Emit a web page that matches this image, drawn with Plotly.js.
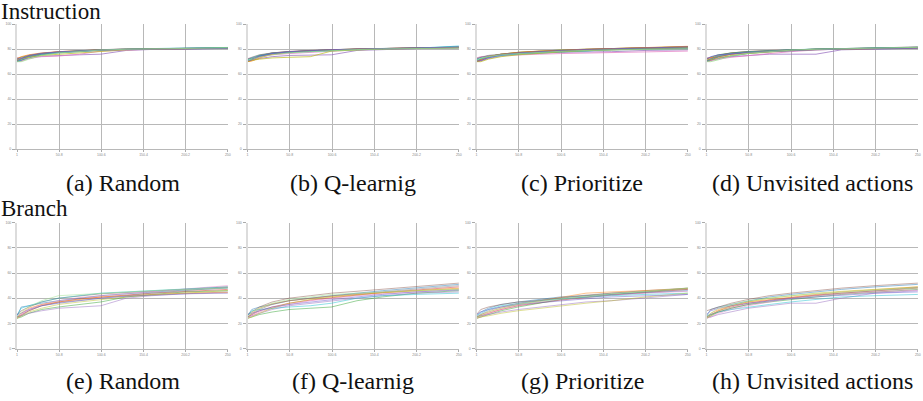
<!DOCTYPE html>
<html>
<head>
<meta charset="utf-8">
<script src="https://cdn.plot.ly/plotly-3.0.1.min.js"></script>
<style>html,body{margin:0;padding:0;background:#fff;}#chart{width:923px;height:401px;}</style>
</head>
<body>
<div id="chart"></div>
<script>
// x positions (iterations) at which coverage was sampled
const xs = [1, 6, 15, 30, 50, 75, 100, 130, 160, 200, 250];
const xTickVals = [1, 50.8, 100.6, 150.4, 200.2, 250];
const xTickText = ["1", "50.8", "100.6", "150.4", "200.2", "250"];
const yTickVals = [0, 20, 40, 60, 80, 100];

const captions = ["(a) Random", "(b) Q-learnig", "(c) Prioritize", "(d) Unvisited actions",
                  "(e) Random", "(f) Q-learnig", "(g) Prioritize", "(h) Unvisited actions"];
const rowTitles = ["Instruction", "Branch"];

// Instruction coverage runs
const instrRandom = [
  [70, 71, 74, 76, 77.5, 78.5, 79.5, 80, 80.3, 80.6, 81],
  [72, 73.5, 75, 76.5, 77.5, 78.5, 79.3, 79.8, 80.2, 80.5, 80.8],
  [70.5, 71, 73, 75.5, 77, 78.3, 79, 79.8, 80.1, 80.5, 81.2],
  [73, 73, 74, 74.5, 75, 75.5, 76, 79, 79.8, 80.3, 80.7],
  [71, 72, 74.5, 76.5, 78, 79, 79.6, 80, 80.4, 80.8, 81.3],
  [70, 70.5, 72.5, 74, 74.5, 76, 78.5, 79.5, 80, 80.4, 80.9],
  [72.5, 74, 75.5, 77, 78, 78.8, 79.4, 79.9, 80.3, 80.6, 80.9],
  [70, 71.5, 74, 76, 77.5, 78.7, 79.5, 80.1, 80.5, 80.9, 81.4],
  [71.5, 72, 73.5, 75, 76, 77, 78, 79.5, 80.1, 80.5, 80.8],
  [70.5, 72.5, 74.5, 76.5, 77.8, 78.8, 79.6, 80.2, 80.5, 80.7, 80.5],
  [72, 72.5, 75, 76.8, 77.8, 78.6, 79.2, 79.7, 80, 80.3, 80.6],
  [70, 70, 72, 75, 77, 78.4, 79.3, 79.9, 80.3, 80.7, 81.1]
];
const instrQlearn = [
  [70, 71.5, 74, 76, 77.5, 78.5, 79.3, 80, 80.5, 81, 81.5],
  [72, 72.5, 74.5, 76.5, 77.8, 78.8, 79.5, 80.2, 80.6, 81, 81.6],
  [70.5, 72, 74.5, 77, 78, 78.8, 79.4, 80, 80.4, 80.9, 81.3],
  [71, 71, 72.5, 74, 75, 75, 75.5, 79, 79.8, 80.5, 81],
  [70, 72, 75, 77, 78.2, 79, 79.6, 80.1, 80.5, 81, 81.8],
  [72.5, 73, 74, 75.5, 76.5, 77.5, 78.5, 79.5, 80.2, 80.8, 81.2],
  [70, 70.5, 73, 76, 77.8, 78.8, 79.5, 80.2, 80.6, 81.1, 81.5],
  [71.5, 73, 75, 76.5, 77.5, 78.2, 79, 79.8, 80.3, 80.8, 82.5],
  [70, 71, 72, 73, 73.5, 74, 78.5, 79.6, 80.2, 80.7, 81.2],
  [72, 73.5, 75.5, 77, 78, 78.8, 79.4, 79.9, 80.3, 80.6, 81],
  [70.5, 71.5, 74, 76.5, 78, 78.9, 79.6, 80.2, 80.7, 81.2, 81.7],
  [71, 72, 73.5, 75.5, 77, 78, 79, 79.7, 80.2, 80.6, 80.9]
];
const instrPrior = [
  [70, 71, 73.5, 75.5, 77, 78, 79, 79.8, 80.5, 81, 81.8],
  [70.5, 72, 74, 76, 77.5, 78.5, 79.3, 80, 80.6, 81.2, 82],
  [72, 73.5, 74.5, 75.5, 76.5, 77.3, 78, 78.8, 79.5, 80, 80.5],
  [70, 70.5, 72.5, 74.5, 76, 77, 77.5, 77.8, 78, 79, 79.5],
  [71, 72, 74, 76, 77.3, 78.3, 79, 79.7, 80.3, 81, 81.6],
  [73, 74, 74.5, 75, 75.5, 76, 76.5, 77, 77.5, 78, 78.5],
  [70, 71.5, 74, 76, 77.5, 78.5, 79.3, 80, 80.5, 81.3, 82.3],
  [71.5, 72.5, 73.5, 75, 76, 77, 77.8, 78.5, 79.8, 80.5, 81],
  [70, 70, 72, 74, 75.5, 76.8, 77.8, 78.8, 79.6, 80.4, 81.2],
  [72.5, 73.5, 75, 76, 77, 77.8, 78.5, 79.2, 79.8, 80.3, 80.8],
  [70.5, 71, 73, 75.5, 77, 78.2, 79, 79.8, 80.4, 81.1, 81.9],
  [71, 72.5, 74, 75.5, 76.5, 77.5, 78.3, 79, 79.5, 79.8, 80.2]
];
const instrUnvisit = [
  [70, 71, 74, 76, 77.5, 78.5, 79.3, 80, 80.4, 80.9, 81.5],
  [72, 73.5, 75.5, 77, 78, 78.8, 79.5, 80.1, 80.5, 80.9, 81.3],
  [70.5, 71, 72.5, 74.5, 76.5, 78, 79, 79.8, 80.3, 80.8, 81.4],
  [73, 73, 73.5, 74, 75, 76, 76, 76, 79.5, 80.3, 80.8],
  [71, 72.5, 75, 77, 78.2, 79, 79.6, 80.1, 80.5, 81, 81.8],
  [70, 70.5, 72, 73.5, 75, 76.5, 78, 79.4, 80.1, 80.6, 81.1],
  [72.5, 73, 74.5, 76, 77.3, 78.3, 79.1, 79.8, 80.2, 80.6, 81],
  [70, 72, 74.5, 76.5, 77.8, 78.8, 79.5, 80.1, 80.6, 81.1, 81.6],
  [71.5, 71.5, 73, 75, 76.5, 77.8, 78.8, 79.6, 80.1, 80.5, 80.9],
  [70.5, 72, 74, 76, 77.5, 78.6, 79.4, 80, 80.4, 80.8, 81.2],
  [72, 74, 75.5, 76.5, 77.3, 78, 78.8, 79.5, 80, 80.4, 80.7],
  [70, 70, 71.5, 74.5, 76.8, 78.2, 79.2, 79.9, 80.4, 81, 81.5]
];

// Branch coverage runs
const branchRandom = [
  [25, 27, 30, 34, 37, 39.5, 41, 42.5, 44, 45.5, 47],
  [24, 25, 28, 31, 33, 35, 37, 41, 43, 45, 46],
  [26, 33, 34, 36, 38, 40, 42, 43.5, 45, 46.5, 48],
  [25, 26, 28, 30, 32, 33, 34, 40, 42, 43.5, 45],
  [27, 30, 33, 37, 40, 42, 43.5, 44.5, 45.5, 47, 49],
  [24, 27, 31, 35, 38, 40.5, 42, 43.5, 45, 47, 50],
  [25, 28, 32, 35, 37, 39, 41, 42, 43, 44, 44.5],
  [26, 32, 34, 37, 40, 42, 44, 45, 46, 47.5, 49],
  [24, 26, 29, 32, 35, 37, 39, 41, 42.5, 44, 46],
  [25, 26, 30, 34, 36.5, 38, 40, 42, 44, 46, 48.5],
  [27, 28, 31, 34, 36, 38, 40, 41.5, 42.5, 43.5, 44],
  [25, 29, 33, 38, 42, 43, 44, 45, 46, 47, 48]
];
const branchQlearn = [
  [25, 27, 30, 33, 36, 38.5, 40.5, 42.5, 44.5, 46.5, 49],
  [24, 25, 27, 29, 31, 32, 33, 38, 41, 44, 46],
  [26, 31, 33, 35, 38, 40, 42, 44, 46, 48, 51],
  [25, 26, 28, 31, 34, 36, 38, 40, 42, 44, 45],
  [27, 29, 33, 37, 40, 42, 44, 45.5, 47, 49, 52],
  [24, 26, 29, 32, 35, 38, 40, 42, 43.5, 45, 47],
  [25, 28, 32, 35.5, 38, 40, 41.5, 43, 44.5, 46, 48],
  [26, 30, 31, 32, 33, 34, 36, 40, 42, 43, 44],
  [24, 25, 28, 32, 36, 39, 41, 43, 44.5, 46, 47.5],
  [25, 27, 31, 35, 38, 40, 42, 43.5, 45, 47, 50],
  [27, 28, 30, 33, 35, 37, 39, 41, 43, 45, 46.5],
  [25, 29, 32, 36, 39, 41, 43, 44, 45, 46, 47]
];
const branchPrior = [
  [25, 26, 28, 31, 34, 36.5, 38.5, 40.5, 42.5, 44.5, 47],
  [24, 25, 27, 30, 33, 36, 39, 41, 43, 45, 48],
  [26, 29, 32, 35, 37, 39, 41, 42, 43, 44.5, 46],
  [25, 26, 27, 29, 31, 33, 35, 37, 38, 40, 43],
  [27, 31, 33, 35, 37, 38, 40, 42, 44, 46, 48],
  [24, 25, 28, 31, 34, 37, 39, 41, 42.5, 44, 45.5],
  [25, 27, 29, 32, 35, 38, 41, 44, 45, 46, 47.5],
  [26, 28, 31, 34, 36, 38, 39.5, 41, 42, 43, 44],
  [24, 25, 26, 28, 30, 32, 34, 36, 38, 41, 44],
  [25, 27, 30, 33, 36, 38.5, 40.5, 42.5, 44, 45.5, 47],
  [27, 29, 31, 33, 35, 36.5, 38, 39.5, 41, 42, 43],
  [25, 26, 29, 32, 35, 37.5, 39.5, 41.5, 43.5, 45.5, 48]
];
const branchUnvisit = [
  [25, 27, 30, 33, 36, 38.5, 40.5, 42.5, 44, 46, 48],
  [24, 26, 29, 32, 35, 37, 39, 41, 43, 45, 47],
  [26, 31, 33, 35, 38, 41, 43, 45, 47, 49, 51],
  [25, 25, 27, 29, 32, 34, 36, 36, 40, 44, 46],
  [30, 31, 33, 36, 39, 42, 44, 46, 48, 50, 52],
  [24, 25, 28, 31, 34, 37, 40, 42, 43.5, 45, 46.5],
  [25, 28, 31, 34, 37, 39, 41, 43, 45, 47, 49],
  [26, 27, 29, 31, 33, 35, 37, 39, 41, 42, 43],
  [24, 26, 30, 34, 37, 40, 42, 44, 45.5, 47, 49],
  [25, 27, 29, 32, 35, 38, 40, 42, 44, 46, 48.5],
  [27, 30, 32, 34, 36, 38, 39.5, 41, 42.5, 44, 45],
  [25, 28, 32, 35, 38, 40, 42, 43.5, 45, 46.5, 48]
];

const panels = [instrRandom, instrQlearn, instrPrior, instrUnvisit,
                branchRandom, branchQlearn, branchPrior, branchUnvisit];
const palette = ['#d62728','#2ca02c','#1f77b4','#9467bd','#8c564b','#e377c2',
                 '#ff7f0e','#17becf','#bcbd22','#7f7f7f','#6a5acd','#98df8a'];

const W = 923, H = 401;
const colPx = [[17, 228], [247.5, 459], [476.5, 688], [706.5, 918]];
const rowPx = [[24, 149], [222.5, 348.5]];
const serifFont = 'serif';

const traces = [];
const layout = {
  width: W, height: H,
  margin: {l: 0, r: 0, t: 0, b: 0},
  paper_bgcolor: '#fff', plot_bgcolor: '#fff',
  showlegend: false,
  font: {family: serifFont},
  annotations: []
};

rowTitles.forEach((t, r) => {
  layout.annotations.push({
    text: t, xref: 'paper', yref: 'paper',
    x: 0, y: 1 - (r === 0 ? 11.5 : 209) / H,
    xanchor: 'left', yanchor: 'middle', showarrow: false, borderpad: 0,
    font: {family: serifFont, size: 23, color: '#111'}
  });
});

panels.forEach((series, p) => {
  const r = Math.floor(p / 4), c = p % 4;
  const ax = p === 0 ? '' : String(p + 1);
  series.forEach((ys, i) => {
    traces.push({
      x: xs, y: ys, type: 'scatter', mode: 'lines',
      xaxis: 'x' + ax, yaxis: 'y' + ax,
      line: {color: palette[i % palette.length], width: r === 0 ? 0.9 : 0.8},
      opacity: r === 0 ? 0.8 : 0.6, hoverinfo: 'skip'
    });
  });
  layout['xaxis' + ax] = {
    domain: [colPx[c][0] / W, colPx[c][1] / W],
    range: [1, 250.2], anchor: 'y' + ax,
    tickvals: xTickVals, ticktext: xTickText,
    tickfont: {size: 3.5, color: '#888', family: 'sans-serif'},
    ticks: 'outside', ticklen: 2, tickcolor: '#aaa',
    showgrid: true, gridcolor: '#b8b8b8', gridwidth: 1,
    zeroline: false, showline: true, linecolor: '#b8b8b8', linewidth: 1
  };
  layout['yaxis' + ax] = {
    domain: [1 - rowPx[r][1] / H, 1 - rowPx[r][0] / H],
    range: [0, 100.2], anchor: 'x' + ax,
    tickvals: yTickVals,
    tickfont: {size: 3.5, color: '#888', family: 'sans-serif'},
    ticks: 'outside', ticklen: 3, tickcolor: '#aaa',
    showgrid: true, gridcolor: '#b8b8b8', gridwidth: 1,
    zeroline: false, showline: true, linecolor: '#dcdcdc', linewidth: 2
  };
  layout.annotations.push({
    text: captions[p], xref: 'paper', yref: 'paper',
    x: (colPx[c][0] + colPx[c][1]) / 2 / W, y: 1 - (r === 0 ? 183 : 381) / H,
    xanchor: 'center', yanchor: 'middle', showarrow: false,
    font: {family: serifFont, size: 24, color: '#111'}
  });
});

Plotly.newPlot('chart', traces, layout, {displayModeBar: false, staticPlot: true});
</script>
</body>
</html>
